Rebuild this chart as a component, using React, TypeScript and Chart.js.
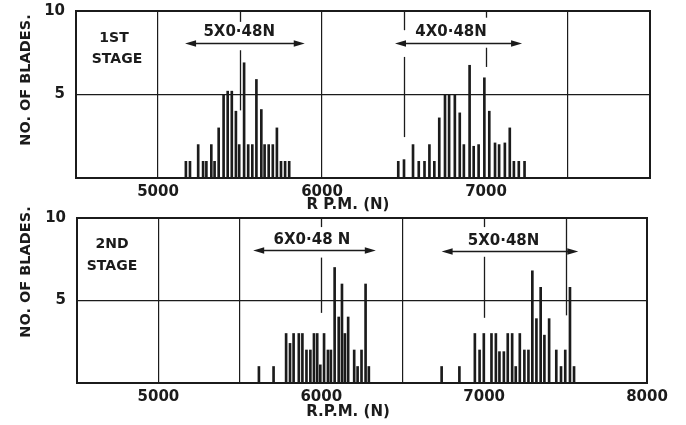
import React, { useEffect, useRef } from 'react';
import { Chart, registerables } from 'chart.js';

Chart.register(...registerables);

const FONT = '"DejaVu Sans", "Liberation Sans", sans-serif';
const INK = '#1b1b1b';

// ---- DATA ----
// 1st stage, lower group (5 x 0.48N)
const stage1LowRpm = [5170, 5195, 5245, 5275, 5295, 5325, 5345, 5370, 5400, 5425, 5450, 5475, 5495, 5525, 5550, 5575, 5600, 5630, 5650, 5675, 5700, 5725, 5750, 5775, 5800];
const stage1LowBlades = [1, 1, 2, 1, 1, 2, 1, 3, 5, 5.2, 5.2, 4, 2, 6.9, 2, 2, 5.9, 4.1, 2, 2, 2, 3, 1, 1, 1];
// 1st stage, upper group (4 x 0.48N)
const stage1HighRpm = [6465, 6500, 6555, 6590, 6625, 6655, 6685, 6715, 6750, 6775, 6810, 6840, 6865, 6900, 6925, 6955, 6990, 7020, 7055, 7080, 7115, 7145, 7170, 7200, 7235];
const stage1HighBlades = [1, 1.1, 2, 1, 1, 2, 1, 3.6, 5, 5, 5, 3.9, 2, 6.75, 1.9, 2, 6, 4, 2.1, 2, 2.1, 3, 1, 1, 1];
// 2nd stage, lower group (6 x 0.48N)
const stage2LowRpm = [5617, 5707, 5784, 5808, 5830, 5862, 5884, 5909, 5933, 5955, 5975, 5994, 6017, 6041, 6059, 6082, 6107, 6127, 6145, 6165, 6202, 6223, 6247, 6272, 6292];
const stage2LowBlades = [1, 1, 3, 2.4, 3, 3, 3, 2, 2, 3, 3, 1.1, 3, 2, 2, 7, 4, 6, 3, 4, 2, 1, 2, 6, 1];
// 2nd stage, upper group (5 x 0.48N)
const stage2HighRpm = [6739, 6848, 6943, 6972, 6998, 7045, 7072, 7094, 7121, 7145, 7172, 7194, 7219, 7247, 7272, 7296, 7321, 7347, 7370, 7399, 7443, 7472, 7498, 7527, 7552];
const stage2HighBlades = [1, 1, 3, 2, 3, 3, 3, 1.9, 1.9, 3, 3, 1, 3, 2, 2, 6.8, 3.9, 5.8, 2.9, 3.9, 2, 1, 2, 5.8, 1];

const rpmMin = 4500;
const rpmMax = 8000;
const bladesMax = 10;
const stage1TickLabels = [5000, 6000, 7000];
const stage2TickLabels = [5000, 6000, 7000, 8000];
const stage1GridLines = [5000, 6000, 7500];
const stage2GridLines = [5000, 5500, 6500];

// harmonic marker lines (rpm, vertical segments in blade units)
const stage1Markers = [
  { rpm: 5500, segments: [[10, 9.35], [7.65, 4.05]] },
  { rpm: 6500, segments: [[10, 8.85], [7.25, 2.45]] },
  { rpm: 7000, segments: [[10, 9.6], [7.8, 6.65]] },
];
const stage2Markers = [
  { rpm: 6000, segments: [[10, 9.45], [7.6, 4.25]] },
  { rpm: 7000, segments: [[10, 9.45], [7.65, 3.95]] },
  { rpm: 7500, segments: [[10, 4.1]] },
];
const stage1Arrows = [
  { from: 5165, to: 5895, y: 8.08, label: '5X0·48N', labelRpm: 5495, labelY: 8.74 },
  { from: 6445, to: 7220, y: 8.08, label: '4X0·48N', labelRpm: 6787, labelY: 8.74 },
];
const stage2Arrows = [
  { from: 5582, to: 6335, y: 8.06, label: '6X0·48 N', labelRpm: 5943, labelY: 8.67 },
  { from: 6739, to: 7578, y: 8.0, label: '5X0·48N', labelRpm: 7119, labelY: 8.6 },
];

type Panel = {
  rpm: number[];
  blades: number[];
  tickLabels: number[];
  gridLines: number[];
  markers: { rpm: number; segments: number[][] }[];
  arrows: { from: number; to: number; y: number; label: string; labelRpm: number; labelY: number }[];
  stage: string[];
  stagePos: number[][];
  xTitle: string;
  xTitlePos: number[];
  yTitleY: number;
  top: number;
  height: number;
  area: { left: number; right: number; top: number; bottom: number };
};

const panels: Panel[] = [
  {
    rpm: [...stage1LowRpm, ...stage1HighRpm],
    blades: [...stage1LowBlades, ...stage1HighBlades],
    tickLabels: stage1TickLabels,
    gridLines: stage1GridLines,
    markers: stage1Markers,
    arrows: stage1Arrows,
    stage: ['1ST', 'STAGE'],
    stagePos: [[114, 38], [117, 59]],
    xTitle: 'R P.M. (N)',
    xTitlePos: [348, 205],
    yTitleY: 80,
    top: 0,
    height: 212,
    area: { left: 76, right: 650, top: 11, bottom: 178 },
  },
  {
    rpm: [...stage2LowRpm, ...stage2HighRpm],
    blades: [...stage2LowBlades, ...stage2HighBlades],
    tickLabels: stage2TickLabels,
    gridLines: stage2GridLines,
    markers: stage2Markers,
    arrows: stage2Arrows,
    stage: ['2ND', 'STAGE'],
    stagePos: [[112, 48], [112, 70]],
    xTitle: 'R.P.M. (N)',
    xTitlePos: [348, 216],
    yTitleY: 76,
    top: 196,
    height: 229,
    area: { left: 77, right: 647, top: 22, bottom: 187 },
  },
];

function makeDecor(p: Panel) {
  return {
    id: 'decor',
    afterDraw(chart: any) {
      const { ctx, chartArea: a } = chart;
      const x = chart.scales.x;
      const y = chart.scales.y;
      ctx.save();
      ctx.strokeStyle = INK;
      ctx.fillStyle = INK;
      // frame
      ctx.lineWidth = 2;
      ctx.strokeRect(a.left, a.top, a.right - a.left, a.bottom - a.top);
      // markers
      ctx.lineWidth = 1.3;
      for (const m of p.markers) {
        const px = Math.round(x.getPixelForValue(m.rpm)) + 0.5;
        for (const [y1, y2] of m.segments) {
          ctx.beginPath();
          ctx.moveTo(px, y.getPixelForValue(y1));
          ctx.lineTo(px, y.getPixelForValue(y2));
          ctx.stroke();
        }
      }
      // arrows
      ctx.font = `bold 15px ${FONT}`;
      ctx.textAlign = 'center';
      ctx.textBaseline = 'middle';
      for (const ar of p.arrows) {
        const x1 = x.getPixelForValue(ar.from);
        const x2 = x.getPixelForValue(ar.to);
        const py = Math.round(y.getPixelForValue(ar.y)) + 0.5;
        ctx.lineWidth = 1.4;
        ctx.beginPath();
        ctx.moveTo(x1 + 6, py);
        ctx.lineTo(x2 - 6, py);
        ctx.stroke();
        for (const [tip, dir] of [[x1, 1], [x2, -1]]) {
          ctx.beginPath();
          ctx.moveTo(tip, py);
          ctx.lineTo(tip + dir * 11, py - 3.2);
          ctx.lineTo(tip + dir * 11, py + 3.2);
          ctx.closePath();
          ctx.fill();
        }
        ctx.fillText(ar.label, x.getPixelForValue(ar.labelRpm), y.getPixelForValue(ar.labelY));
      }
      // stage labels
      ctx.font = `bold 14px ${FONT}`;
      p.stage.forEach((s, i) => ctx.fillText(s, p.stagePos[i][0], p.stagePos[i][1]));
      // x title
      ctx.font = `bold 15px ${FONT}`;
      ctx.fillText(p.xTitle, p.xTitlePos[0], p.xTitlePos[1]);
      // y title
      ctx.save();
      ctx.font = `bold 14.5px ${FONT}`;
      ctx.translate(26, p.yTitleY);
      ctx.rotate(-Math.PI / 2);
      ctx.fillText('NO. OF BLADES.', 0, 0);
      ctx.restore();
      ctx.restore();
    },
  };
}

function PanelChart({ p }: { p: Panel }) {
  const ref = useRef<HTMLCanvasElement | null>(null);
  useEffect(() => {
    if (!ref.current) return;
    const a = p.area;
    const chart = new Chart(ref.current, {
      type: 'bar',
      data: {
        datasets: [
          {
            data: p.rpm.map((r, i) => ({ x: r, y: p.blades[i] })),
            backgroundColor: INK,
            borderWidth: 0,
            barThickness: 2,
          },
        ],
      },
      options: {
        responsive: false,
        animation: false,
        events: [],
        layout: { padding: { left: 0, right: 686 - a.right, top: a.top, bottom: 0 } },
        plugins: { legend: { display: false }, tooltip: { enabled: false } },
        scales: {
          x: {
            type: 'linear',
            min: rpmMin,
            max: rpmMax,
            offset: false,
            afterFit: (s: any) => {
              s.height = p.height - a.bottom;
              s.paddingLeft = 0;
              s.paddingRight = 0;
            },
            afterBuildTicks: (s: any) => {
              const t = [];
              for (let v = rpmMin; v <= rpmMax; v += 500) t.push({ value: v });
              s.ticks = t;
            },
            ticks: {
              autoSkip: false,
              maxRotation: 0,
              padding: 5,
              color: INK,
              font: { family: FONT, size: 15, weight: 'bold' },
              callback: (v: any) => (p.tickLabels.includes(Number(v)) ? String(v) : ''),
            },
            grid: {
              offset: false,
              drawTicks: false,
              lineWidth: 1.2,
              color: (c: any) => (c.tick && p.gridLines.includes(c.tick.value) ? INK : 'rgba(0,0,0,0)'),
            },
            border: { display: false },
          },
          y: {
            min: 0,
            max: bladesMax,
            afterFit: (s: any) => {
              s.width = a.left;
              s.paddingTop = 0;
              s.paddingBottom = 0;
            },
            ticks: {
              stepSize: 5,
              padding: 11,
              color: INK,
              font: { family: FONT, size: 15, weight: 'bold' },
              callback: (v: any) => (Number(v) === 0 ? '' : String(v)),
            },
            grid: {
              drawTicks: false,
              lineWidth: 1.2,
              color: (c: any) => (c.tick && c.tick.value === 5 ? INK : 'rgba(0,0,0,0)'),
            },
            border: { display: false },
          },
        },
      },
      plugins: [makeDecor(p)],
    } as any);
    return () => chart.destroy();
  }, [p]);
  return (
    <canvas
      ref={ref}
      width={686}
      height={p.height}
      style={{ position: 'absolute', left: 0, top: p.top, width: 686, height: p.height }}
    />
  );
}

export default function App() {
  return (
    <div style={{ position: 'fixed', left: 0, top: 0, width: 686, height: 425, background: '#fff' }}>
      <PanelChart p={panels[0]} />
      <PanelChart p={panels[1]} />
    </div>
  );
}
